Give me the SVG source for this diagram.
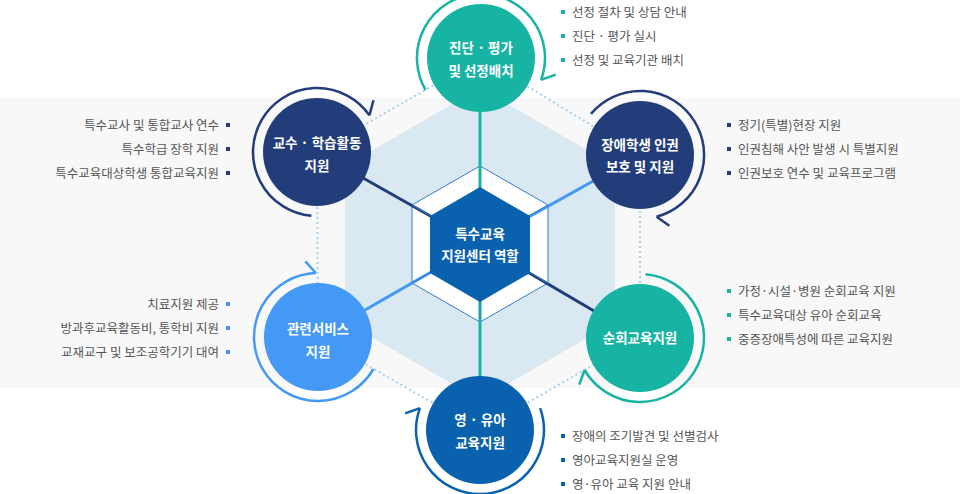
<svg xmlns="http://www.w3.org/2000/svg" width="960" height="494" viewBox="0 0 960 494">
<defs>
<style>
text{font-family:"Noto Sans CJK KR","Noto Sans",sans-serif}
.lt{font-size:12.5px;fill:#555}
.nt{font-size:13.5px;fill:#fff;font-weight:bold;text-anchor:middle}
.dot{stroke:#a9cfe8;stroke-width:2;stroke-dasharray:2 3;fill:none}
.ring{fill:none;stroke-width:2.5}
</style>
<marker id="mTeal" markerUnits="userSpaceOnUse" markerWidth="30" markerHeight="30" refX="15" refY="15" orient="auto" viewBox="0 0 30 30"><path d="M15,15 L5,3" stroke="#17b3a3" stroke-width="2.5" fill="none"/></marker>
<marker id="mNavy" markerUnits="userSpaceOnUse" markerWidth="30" markerHeight="30" refX="15" refY="15" orient="auto" viewBox="0 0 30 30"><path d="M15,15 L5,3" stroke="#233d7b" stroke-width="2.5" fill="none"/></marker>
<marker id="mBlue" markerUnits="userSpaceOnUse" markerWidth="30" markerHeight="30" refX="15" refY="15" orient="auto" viewBox="0 0 30 30"><path d="M15,15 L5,3" stroke="#4399f5" stroke-width="2.5" fill="none"/></marker>
<marker id="mMid" markerUnits="userSpaceOnUse" markerWidth="30" markerHeight="30" refX="15" refY="15" orient="auto" viewBox="0 0 30 30"><path d="M15,15 L5,3" stroke="#0a61ad" stroke-width="2.5" fill="none"/></marker>
</defs>
<rect x="0" y="98" width="960" height="290" fill="#f8f8f8"/>
<polygon points="480,88 615,166 615,322 480,400 345,322 345,166" fill="#d9e8f1"/>
<polygon points="480,166 548,205 548,283 480,322 412,283 412,205" fill="#fff" stroke="#2f7fc7" stroke-width="1"/>
<g id="connectors">
<line class="dot" x1="481" y1="58" x2="317" y2="152"/>
<line class="dot" x1="317" y1="152" x2="318" y2="337"/>
<line class="dot" x1="318" y1="337" x2="480" y2="430"/>
<line class="dot" x1="480" y1="430" x2="640" y2="338"/>
<line class="dot" x1="640" y1="338" x2="640" y2="155"/>
<line class="dot" x1="640" y1="155" x2="481" y2="58"/>
<line x1="480" y1="244" x2="480" y2="110" stroke="#17b3a3" stroke-width="3"/>
<line x1="480" y1="244" x2="480" y2="380" stroke="#17b3a3" stroke-width="3"/>
<line x1="480" y1="244" x2="317" y2="152" stroke="#233d7b" stroke-width="3"/>
<line x1="480" y1="244" x2="640" y2="338" stroke="#233d7b" stroke-width="3"/>
<line x1="480" y1="244" x2="640" y2="155" stroke="#4399f5" stroke-width="3"/>
<line x1="480" y1="244" x2="318" y2="337" stroke="#4399f5" stroke-width="3"/>
<polyline points="412,205 480,244 548,205" fill="none" stroke="#2f7fc7" stroke-width="1"/>
<line x1="480" y1="244" x2="480" y2="322" stroke="#2f7fc7" stroke-width="1"/>
<line x1="412" y1="283" x2="480" y2="244" stroke="#2f7fc7" stroke-width="1"/>
<line x1="548" y1="283" x2="480" y2="244" stroke="#2f7fc7" stroke-width="1"/>
</g>
<g id="center">
<polygon points="480,187 530,216 530,273 480,302 430,273 430,216" fill="#0a61ad"/>
<text class="nt" x="480" y="239" font-size="13">특수교육</text>
<text class="nt" x="480" y="261">지원센터 역할</text>
</g>
<g id="n-top">
<path class="ring" stroke="#17b3a3" d="M425.6,90 A64,64 0 1 1 541.1,79.9" marker-end="url(#mTeal)"/>
<circle cx="481" cy="58" r="54" fill="#17b3a3"/>
<text class="nt" x="481" y="53">진단 · 평가</text>
<text class="nt" x="481" y="76">및 선정배치</text>
</g>
<g id="n-tl">
<path class="ring" stroke="#233d7b" d="M311.4,215.8 A64,64 0 1 1 369.4,115.3" marker-end="url(#mNavy)"/>
<circle cx="317" cy="152" r="54" fill="#233d7b"/>
<text class="nt" x="317" y="148">교수 · 학습활동</text>
<text class="nt" x="317" y="171">지원</text>
</g>
<g id="n-tr">
<path class="ring" stroke="#233d7b" d="M591,113.9 A64,64 0 1 1 656.6,216.8" marker-end="url(#mNavy)"/>
<circle cx="640" cy="155" r="54" fill="#233d7b"/>
<text class="nt" x="640" y="150">장애학생 인권</text>
<text class="nt" x="640" y="172">보호 및 지원</text>
</g>
<g id="n-br">
<path class="ring" stroke="#17b3a3" d="M645.6,274.2 A64,64 0 1 1 584.6,370" marker-end="url(#mTeal)"/>
<circle cx="640" cy="338" r="54" fill="#17b3a3"/>
<text class="nt" x="640" y="343">순회교육지원</text>
</g>
<g id="n-bl">
<path class="ring" stroke="#4399f5" d="M373.4,369 A64,64 0 1 1 315.8,273" marker-end="url(#mBlue)"/>
<circle cx="318" cy="337" r="54" fill="#4399f5"/>
<text class="nt" x="318" y="334">관련서비스</text>
<text class="nt" x="318" y="357">지원</text>
</g>
<g id="n-bottom">
<path class="ring" stroke="#0a61ad" d="M540.1,408.1 A64,64 0 1 1 419.9,408.1" marker-end="url(#mMid)"/>
<circle cx="480" cy="430" r="54" fill="#0a61ad"/>
<text class="nt" x="480" y="425">영 · 유아</text>
<text class="nt" x="480" y="448">교육지원</text>
</g>
<g id="lists">
<g fill="#17b3a3"><rect x="561" y="10" width="4" height="4"/><rect x="561" y="34" width="4" height="4"/><rect x="561" y="58" width="4" height="4"/></g>
<text class="lt" x="572" y="17">선정 절차 및 상담 안내</text>
<text class="lt" x="572" y="41">진단 · 평가 실시</text>
<text class="lt" x="572" y="65">선정 및 교육기관 배치</text>
<g fill="#233d7b"><rect x="226" y="123" width="4" height="4"/><rect x="226" y="147" width="4" height="4"/><rect x="226" y="171" width="4" height="4"/></g>
<g text-anchor="end"><text class="lt" x="219" y="130">특수교사 및 통합교사 연수</text>
<text class="lt" x="219" y="154">특수학급 장학 지원</text>
<text class="lt" x="219" y="178">특수교육대상학생 통합교육지원</text></g>
<g fill="#233d7b"><rect x="727" y="123" width="4" height="4"/><rect x="727" y="147" width="4" height="4"/><rect x="727" y="171" width="4" height="4"/></g>
<text class="lt" x="738" y="130">정기(특별)현장 지원</text>
<text class="lt" x="738" y="154">인권침해 사안 발생 시 특별지원</text>
<text class="lt" x="738" y="178">인권보호 연수 및 교육프로그램</text>
<g fill="#4399f5"><rect x="226" y="302" width="4" height="4"/><rect x="226" y="326" width="4" height="4"/><rect x="226" y="350" width="4" height="4"/></g>
<g text-anchor="end"><text class="lt" x="219" y="309">치료지원 제공</text>
<text class="lt" x="219" y="333">방과후교육활동비, 통학비 지원</text>
<text class="lt" x="219" y="357">교재교구 및 보조공학기기 대여</text></g>
<g fill="#17b3a3"><rect x="727" y="289" width="4" height="4"/><rect x="727" y="313" width="4" height="4"/><rect x="727" y="337" width="4" height="4"/></g>
<text class="lt" x="738" y="296">가정·시설·병원 순회교육 지원</text>
<text class="lt" x="738" y="320">특수교육대상 유아 순회교육</text>
<text class="lt" x="738" y="344">중증장애특성에 따른 교육지원</text>
<g fill="#0a61ad"><rect x="561" y="434" width="4" height="4"/><rect x="561" y="458" width="4" height="4"/><rect x="561" y="482" width="4" height="4"/></g>
<text class="lt" x="572" y="441">장애의 조기발견 및 선별검사</text>
<text class="lt" x="572" y="465">영아교육지원실 운영</text>
<text class="lt" x="572" y="489">영·유아 교육 지원 안내</text>
</g>
</svg>
